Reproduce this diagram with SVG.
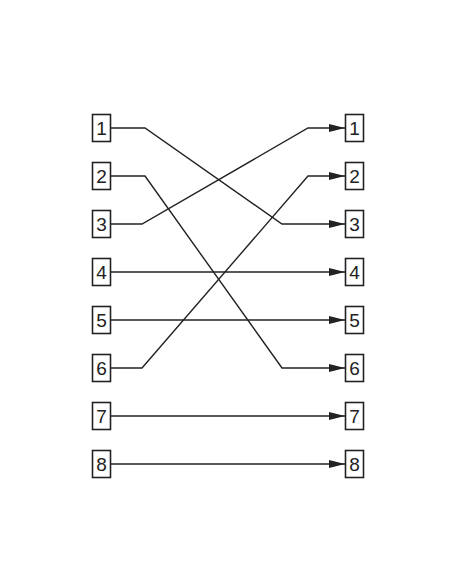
<svg xmlns="http://www.w3.org/2000/svg" width="452" height="584" viewBox="0 0 452 584">
<style>
.box{fill:#fff;stroke:#222;stroke-width:1.6}
.lbl{font-family:"Liberation Sans",Arial,sans-serif;font-size:19px;fill:#222;text-anchor:middle}
.edge{fill:none;stroke:#222;stroke-width:1.4;marker-end:url(#ah)}
</style>
<defs>
<marker id="ah" viewBox="0 0 16 8" refX="16" refY="4" markerWidth="16" markerHeight="8" markerUnits="userSpaceOnUse" orient="auto">
<path d="M0,0 L16,4 L0,8 Z" fill="#222"/>
</marker>
</defs>
<rect width="452" height="584" fill="#fff"/>
<g id="connectors">
<path class="edge" d="M111,128 H145 L282,224 H345"/>
<path class="edge" d="M111,176 H145 L282,368 H345"/>
<path class="edge" d="M111,224 H142 L308,128 H345"/>
<path class="edge" d="M111,272 H345"/>
<path class="edge" d="M111,320 H345"/>
<path class="edge" d="M111,368 H142 L308,176 H345"/>
<path class="edge" d="M111,416 H345"/>
<path class="edge" d="M111,464 H345"/>
</g>
<g id="L1"><rect class="box" x="92.5" y="114.5" width="18" height="27"/><text class="lbl" x="101.5" y="134.8">1</text></g>
<g id="L2"><rect class="box" x="92.5" y="162.5" width="18" height="27"/><text class="lbl" x="101.5" y="182.8">2</text></g>
<g id="L3"><rect class="box" x="92.5" y="210.5" width="18" height="27"/><text class="lbl" x="101.5" y="230.8">3</text></g>
<g id="L4"><rect class="box" x="92.5" y="258.5" width="18" height="27"/><text class="lbl" x="101.5" y="278.8">4</text></g>
<g id="L5"><rect class="box" x="92.5" y="306.5" width="18" height="27"/><text class="lbl" x="101.5" y="326.8">5</text></g>
<g id="L6"><rect class="box" x="92.5" y="354.5" width="18" height="27"/><text class="lbl" x="101.5" y="374.8">6</text></g>
<g id="L7"><rect class="box" x="92.5" y="402.5" width="18" height="27"/><text class="lbl" x="101.5" y="422.8">7</text></g>
<g id="L8"><rect class="box" x="92.5" y="450.5" width="18" height="27"/><text class="lbl" x="101.5" y="470.8">8</text></g>
<g id="R1"><rect class="box" x="345.5" y="114.5" width="18" height="27"/><text class="lbl" x="354.5" y="134.8">1</text></g>
<g id="R2"><rect class="box" x="345.5" y="162.5" width="18" height="27"/><text class="lbl" x="354.5" y="182.8">2</text></g>
<g id="R3"><rect class="box" x="345.5" y="210.5" width="18" height="27"/><text class="lbl" x="354.5" y="230.8">3</text></g>
<g id="R4"><rect class="box" x="345.5" y="258.5" width="18" height="27"/><text class="lbl" x="354.5" y="278.8">4</text></g>
<g id="R5"><rect class="box" x="345.5" y="306.5" width="18" height="27"/><text class="lbl" x="354.5" y="326.8">5</text></g>
<g id="R6"><rect class="box" x="345.5" y="354.5" width="18" height="27"/><text class="lbl" x="354.5" y="374.8">6</text></g>
<g id="R7"><rect class="box" x="345.5" y="402.5" width="18" height="27"/><text class="lbl" x="354.5" y="422.8">7</text></g>
<g id="R8"><rect class="box" x="345.5" y="450.5" width="18" height="27"/><text class="lbl" x="354.5" y="470.8">8</text></g>
</svg>
